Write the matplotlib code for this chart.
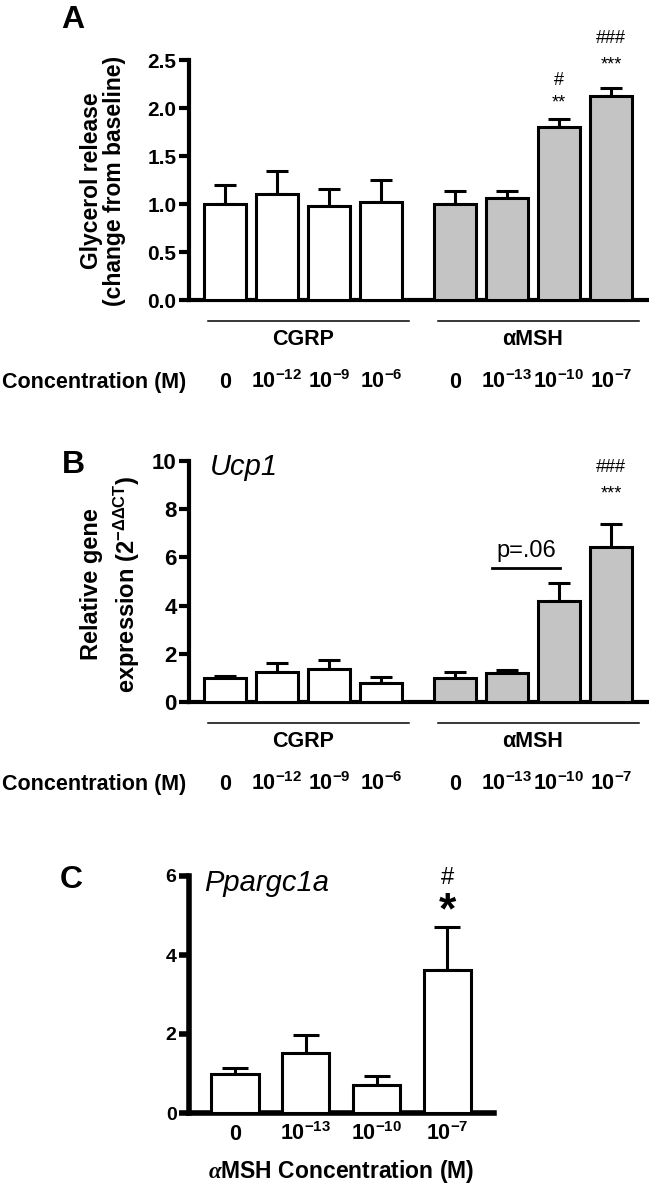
import numpy as np
import matplotlib
matplotlib.use("Agg")
import matplotlib.pyplot as plt
from matplotlib.transforms import offset_copy, blended_transform_factory

plt.rcParams['font.family'] = ['Liberation Sans', 'DejaVu Sans']
plt.rcParams['font.weight'] = 'bold'
plt.rcParams['mathtext.fontset'] = 'custom'
plt.rcParams['mathtext.rm'] = 'Liberation Sans'
plt.rcParams['mathtext.bf'] = 'Liberation Sans:bold'
plt.rcParams['mathtext.it'] = 'Liberation Serif:italic'
plt.rcParams['mathtext.default'] = 'bf'

# data
cgrp_conc = ['0', '$10^{-12}$', '$10^{-9}$', '$10^{-6}$']
msh_conc = ['0', '$10^{-13}$', '$10^{-10}$', '$10^{-7}$']

glycerol_cgrp = [1.00, 1.10, 0.98, 1.02]
glycerol_cgrp_err = [0.20, 0.24, 0.18, 0.23]
glycerol_msh = [1.00, 1.06, 1.80, 2.13]
glycerol_msh_err = [0.14, 0.08, 0.09, 0.08]
glycerol_marks = [('#', 2.29), ('**', 2.05)], [('###', 2.72), ('***', 2.45)]

ucp1_cgrp = [1.01, 1.23, 1.36, 0.80]
ucp1_cgrp_err = [0.08, 0.37, 0.38, 0.22]
ucp1_msh = [0.98, 1.19, 4.19, 6.44]
ucp1_msh_err = [0.28, 0.14, 0.76, 0.95]

pgc_conc = ['0', '$10^{-13}$', '$10^{-10}$', '$10^{-7}$']
pgc_vals = [1.00, 1.53, 0.70, 3.61]
pgc_err = [0.15, 0.45, 0.23, 1.10]

W, H = 649, 1187
fig = plt.figure(figsize=(W / 100, H / 100), dpi=100)


def add_panel(left, right, top, bottom):
    return fig.add_axes([left / W, 1 - bottom / H, (right - left) / W, (bottom - top) / H])


def style_axis(ax, lw=3):
    for s in ['top', 'right']:
        ax.spines[s].set_visible(False)
    ax.spines['left'].set_linewidth(lw)
    ax.spines['bottom'].set_linewidth(lw)
    ax.tick_params(axis='y', direction='out', length=7, width=lw, pad=2)
    ax.tick_params(axis='x', length=0)


def below(ax, px):
    # x in data, y offset in pixels under the x axis
    return offset_copy(ax.get_xaxis_transform(), fig=fig, x=0, y=-px, units='dots')


def bars(ax, pos, vals, errs, color, width, cap):
    ax.bar(pos, vals, width=width, color=color, edgecolor='black', linewidth=2.2, zorder=3)
    ax.errorbar(pos, vals, yerr=[np.zeros(len(vals)), errs], fmt='none', ecolor='black',
                elinewidth=2.2, capsize=cap, capthick=2.2, zorder=2)


pos_cgrp = np.arange(4)
pos_msh = np.arange(4) + 4.42


def two_group_panel(ax, cgrp, cgrp_err, msh, msh_err):
    bars(ax, pos_cgrp, cgrp, cgrp_err, 'white', 0.82, 8)
    bars(ax, pos_msh, msh, msh_err, '#c4c4c4', 0.82, 8)
    ax.set_xlim(-0.69, 8.15)
    ax.set_xticks([])
    for pos, name in [(pos_cgrp, 'CGRP'), (pos_msh, 'αMSH')]:
        ax.plot([pos[0] - 0.33, pos[-1] + 0.53], [0, 0], color='black', lw=1.1,
                transform=below(ax, 21), clip_on=False)
        ax.text(pos.mean(), 0, name, ha='center', va='baseline', fontsize=15.5,
                transform=below(ax, 45))
    for pos, labels in [(pos_cgrp, cgrp_conc), (pos_msh, msh_conc)]:
        for p, lab in zip(pos, labels):
            ax.text(p, 0, lab, ha='center', va='baseline', fontsize=15.5,
                    transform=below(ax, 88))
    left_edge = blended_transform_factory(fig.transFigure, ax.transAxes)
    ax.text(0.003, 0, 'Concentration (M)', ha='left', va='baseline', fontsize=15.5,
            transform=offset_copy(left_edge, fig=fig, x=0, y=-88, units='dots'))


# ---------------- A: glycerol release ----------------
axA = add_panel(189, 649, 60, 300)
style_axis(axA)
two_group_panel(axA, glycerol_cgrp, glycerol_cgrp_err, glycerol_msh, glycerol_msh_err)
axA.set_ylim(0, 2.5)
axA.set_yticks(np.arange(0, 2.51, 0.5))
axA.set_yticklabels(['%.1f' % v for v in np.arange(0, 2.51, 0.5)], fontsize=15)
for bar_i, marks in zip([2, 3], glycerol_marks):
    for txt, y in marks:
        axA.text(pos_msh[bar_i], y, txt, ha='center', va='center', fontsize=13, fontweight='normal')
fig.text(103 / W, 1 - 181 / H, 'Glycerol release\n(change from baseline)', rotation=90,
         ha='center', va='center', fontsize=16.5, multialignment='center', linespacing=1.0)
fig.text(73 / W, 1 - 20 / H, 'A', ha='center', va='center', fontsize=23)

# ---------------- B: Ucp1 ----------------
axB = add_panel(189, 649, 461, 702)
style_axis(axB)
two_group_panel(axB, ucp1_cgrp, ucp1_cgrp_err, ucp1_msh, ucp1_msh_err)
axB.set_ylim(0, 10)
axB.set_yticks(np.arange(0, 11, 2))
axB.set_yticklabels([str(v) for v in range(0, 11, 2)], fontsize=16)
axB.text(pos_msh[3], 9.75, '###', ha='center', va='center', fontsize=13, fontweight='normal')
axB.text(pos_msh[3], 8.63, '***', ha='center', va='center', fontsize=13, fontweight='normal')
axB.plot([pos_msh[1] - 0.29, pos_msh[2] + 0.02], [5.56, 5.56], color='black', lw=2, clip_on=False)
axB.text((pos_msh[1] - 0.29 + pos_msh[2] + 0.02) / 2, 6.25, 'p=.06', ha='center', va='center',
         fontsize=17, fontweight='normal')
axB.text(0.045, 0.975, 'Ucp1', transform=axB.transAxes, ha='left', va='center', fontsize=21,
         style='italic', fontweight='normal')
fig.text(111 / W, 1 - 584 / H, 'Relative gene\nexpression (2$^{\\mathrm{-ΔΔCT}}$)', rotation=90,
         ha='center', va='center', fontsize=17, multialignment='center', linespacing=1.35)
fig.text(73 / W, 1 - 465 / H, 'B', ha='center', va='center', fontsize=23)

# ---------------- C: Ppargc1a ----------------
axC = add_panel(189, 494, 876, 1113)
style_axis(axC, lw=4)
pos_c = np.arange(4)
bars(axC, pos_c, pgc_vals, pgc_err, 'white', 0.67, 9.5)
axC.set_xlim(-0.65, 3.66)
axC.set_ylim(0, 6)
axC.set_xticks([])
axC.set_yticks([0, 2, 4, 6])
axC.set_yticklabels(['0', '2', '4', '6'], fontsize=14)
for p, lab in zip(pos_c, pgc_conc):
    axC.text(p, 0, lab, ha='center', va='baseline', fontsize=15.5, transform=below(axC, 27))
axC.text(0.5, 0, '$\\mathit{\\alpha}$MSH Concentration (M)', ha='center', va='baseline',
         fontsize=16.5, transform=offset_copy(axC.transAxes, fig=fig, x=0, y=-65, units='dots'))
axC.text(pos_c[3], 5.95, '#', ha='center', va='center', fontsize=17, fontweight='normal')
axC.text(pos_c[3], 5.1, '*', ha='center', va='center', fontsize=32)
axC.text(0.05, 0.97, 'Ppargc1a', transform=axC.transAxes, ha='left', va='center', fontsize=21,
         style='italic', fontweight='normal')
fig.text(71 / W, 1 - 880 / H, 'C', ha='center', va='center', fontsize=23)

fig.savefig('out.png', dpi=100)
